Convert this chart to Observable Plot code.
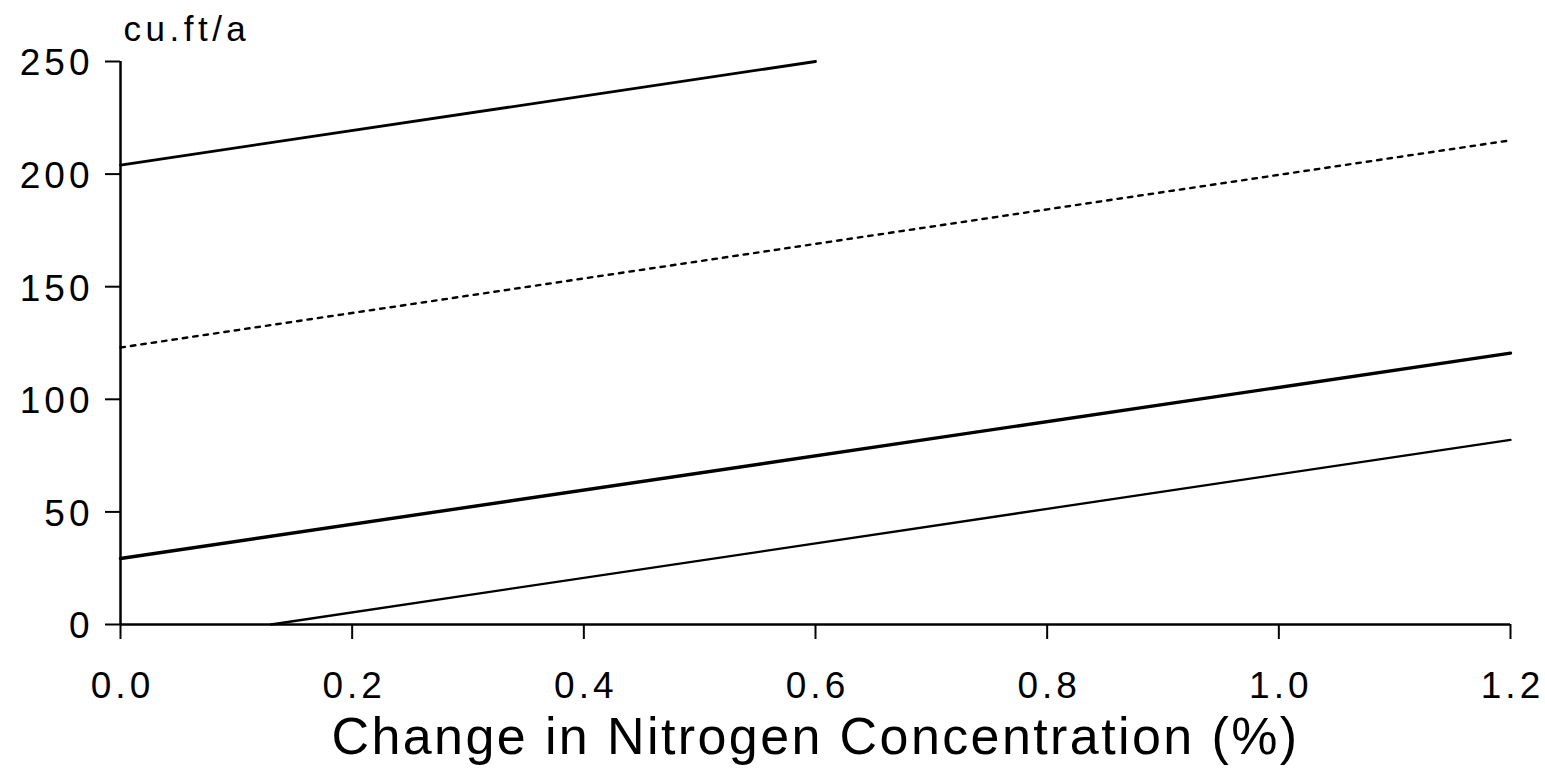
<!DOCTYPE html>
<html><head><meta charset="utf-8">
<script src="https://cdn.jsdelivr.net/npm/d3@7"></script>
<script src="https://cdn.jsdelivr.net/npm/@observablehq/plot@0.6"></script>
<style>
body{margin:0;background:#fff}
svg text{letter-spacing:4px}
svg .title text{letter-spacing:2.4px}
svg .unit text{letter-spacing:4.5px}
</style>
</head><body><div id="chart"></div>
<script>
const xTicks = [0, 0.2, 0.4, 0.6, 0.8, 1.0, 1.2];
const yTicks = [0, 50, 100, 150, 200, 250];
const yUnit = "cu.ft/a";
const xTitle = "Change in Nitrogen Concentration (%)";

// series (start and end of each straight line)
const upperX = [0, 0.6];
const upperY = [204, 250];
const dottedX = [0, 1.2];
const dottedY = [123, 215];
const thickX = [0, 1.2];
const thickY = [29.3, 120.5];
const lowerX = [0.13, 1.2];
const lowerY = [0, 82];

const toRows = (xs, ys) => xs.map((x, i) => ({x, y: ys[i]}));

const chart = Plot.plot({
  width: 1545,
  height: 769,
  marginLeft: 120,
  marginRight: 35,
  marginTop: 61,
  marginBottom: 145,
  style: {fontFamily: "'Liberation Sans', Arial, sans-serif", color: "#000", background: "#fff"},
  x: {domain: [0, 1.2]},
  y: {domain: [0, 250]},
  marks: [
    Plot.axisY({ticks: yTicks, tickSize: 15, text: null, strokeWidth: 2, label: null}),
    Plot.axisY({ticks: yTicks, tickSize: 0, tickPadding: 27, fontSize: 37, label: null, dy: 2}),
    Plot.axisX({ticks: xTicks, tickSize: 15, text: null, strokeWidth: 2, label: null}),
    Plot.axisX({ticks: xTicks, tickFormat: d3.format(".1f"), tickSize: 0, tickPadding: 47, fontSize: 37, label: null, dx: 2}),
    Plot.ruleX([0], {y1: 0, y2: 250, strokeWidth: 2.5}),
    Plot.ruleY([0], {x1: 0, x2: 1.2, strokeWidth: 2.5}),
    Plot.line(toRows(upperX, upperY), {x: "x", y: "y", strokeWidth: 2.8}),
    Plot.line(toRows(dottedX, dottedY), {x: "x", y: "y", strokeWidth: 2.4, strokeDasharray: "4.5,6"}),
    Plot.line(toRows(thickX, thickY), {x: "x", y: "y", strokeWidth: 3.4}),
    Plot.line(toRows(lowerX, lowerY), {x: "x", y: "y", strokeWidth: 2.3}),
    Plot.text([yUnit], {text: d => d, frameAnchor: "top-left", lineAnchor: "middle", textAnchor: "start", dx: 3, dy: -32, fontSize: 35, className: "unit"}),
    Plot.text([xTitle], {text: d => d, frameAnchor: "bottom", lineAnchor: "middle", dy: 113, fontSize: 52, className: "title"})
  ]
});
document.getElementById("chart").append(chart);
</script>
</body></html>
